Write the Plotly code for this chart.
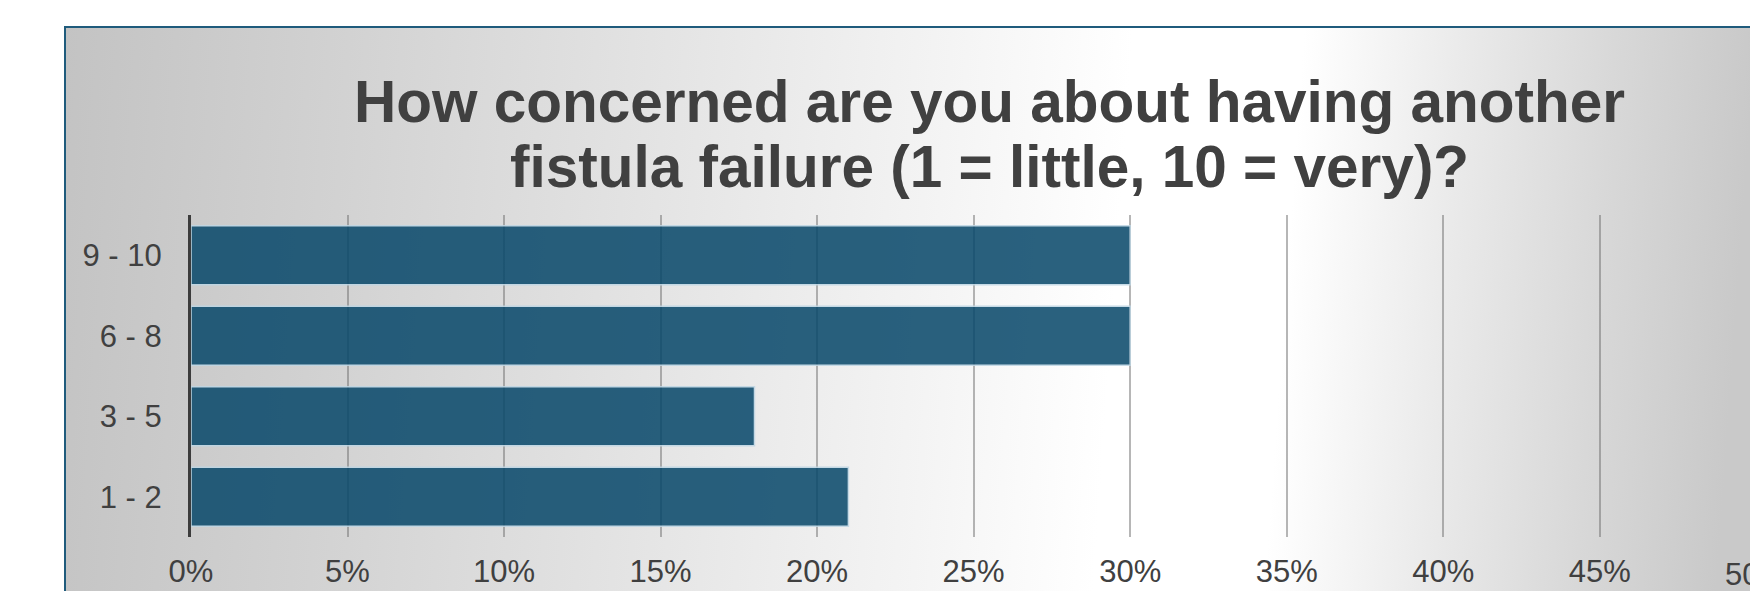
import base64
import plotly.graph_objects as go

# Survey responses: share of patients per concern band (top to bottom)
categories = ["9 - 10", "6 - 8", "3 - 5", "1 - 2"]
shares = [0.30, 0.30, 0.18, 0.21]

tick_values = [0.00, 0.05, 0.10, 0.15, 0.20, 0.25, 0.30, 0.35, 0.40, 0.45]
tick_labels = ["0%", "5%", "10%", "15%", "20%", "25%", "30%", "35%", "40%", "45%"]
edge_tick_value = 0.50
edge_tick_label = "50%"

title_lines = [
    "How concerned are you about having another",
    "fistula failure (1 = little, 10 = very)?",
]

# Canvas and plot-area geometry (px)
W, H = 1750, 591
M_L, M_R, M_T, M_B = 191, 0, 215, 54
PLOT_W = W - M_L - M_R
PLOT_H = H - M_T - M_B
X_MAX = 0.498  # the axis runs just past the right edge of the canvas

FONT = "Liberation Sans, Arial, sans-serif"
INK = "#404040"
LABEL_SIZE = 31


def px_to_paper_x(px):
    return (px - M_L) / PLOT_W


def px_to_paper_y(py):
    return (H - M_B - py) / PLOT_H


# Backdrop: framed panel with a soft grey-white-grey gradient
stops = [
    (64, "#c3c3c3"), (350, "#d2d2d2"), (650, "#e3e3e3"), (950, "#f4f4f4"),
    (1130, "#ffffff"), (1300, "#ffffff"), (1460, "#eaeaea"),
    (1610, "#d8d8d8"), (1750, "#c9c9c9"),
]
stop_xml = "".join(
    f'<stop offset="{(x - 64) / (1750 - 64):.4f}" stop-color="{c}"/>' for x, c in stops
)
svg = (
    f'<svg xmlns="http://www.w3.org/2000/svg" width="{W}" height="{H}" '
    f'viewBox="0 0 {W} {H}" preserveAspectRatio="none">'
    f'<defs><linearGradient id="g" gradientUnits="userSpaceOnUse" '
    f'x1="64" y1="0" x2="1750" y2="120">{stop_xml}</linearGradient></defs>'
    f'<rect x="0" y="0" width="{W}" height="{H}" fill="#ffffff"/>'
    f'<rect x="64" y="26" width="{W}" height="{H}" fill="url(#g)"/>'
    f'<rect x="64" y="26" width="2" height="{H}" fill="#1f5b7c"/>'
    f'<rect x="64" y="26" width="{W}" height="2" fill="#1f5b7c"/>'
    f'</svg>'
)
bg_src = "data:image/svg+xml;base64," + base64.b64encode(svg.encode()).decode()

fig = go.Figure()
fig.add_trace(
    go.Bar(
        x=shares,
        y=categories,
        orientation="h",
        marker=dict(
            color="rgb(8,72,106)",
            opacity=0.86,
            line=dict(color="rgba(190,214,228,1)", width=1.5),
        ),
        hoverinfo="skip",
    )
)

fig.add_layout_image(
    dict(
        source=bg_src,
        xref="paper", yref="paper",
        x=px_to_paper_x(0), y=px_to_paper_y(0),
        sizex=W / PLOT_W, sizey=H / PLOT_H,
        xanchor="left", yanchor="top",
        sizing="stretch", layer="below",
    )
)

annotations = []
title_centers_px = [101, 167]
for line, cy in zip(title_lines, title_centers_px):
    annotations.append(
        dict(
            text=f"<b>{line}</b>",
            xref="paper", yref="paper",
            x=px_to_paper_x(989), y=px_to_paper_y(cy),
            xanchor="center", yanchor="middle",
            showarrow=False,
            font=dict(family=FONT, size=58.5, color=INK),
        )
    )
annotations.append(
    dict(
        text=edge_tick_label,
        xref="paper", yref="paper",
        x=edge_tick_value / X_MAX, y=px_to_paper_y(574),
        xanchor="center", yanchor="middle",
        showarrow=False,
        font=dict(family=FONT, size=LABEL_SIZE, color=INK),
    )
)

fig.update_layout(
    width=W, height=H,
    margin=dict(l=M_L, r=M_R, t=M_T, b=M_B, pad=0),
    paper_bgcolor="white",
    plot_bgcolor="rgba(0,0,0,0)",
    showlegend=False,
    bargap=0.27,
    annotations=annotations,
    xaxis=dict(
        range=[0, X_MAX],
        tickmode="array",
        tickvals=tick_values,
        ticktext=tick_labels,
        showgrid=True,
        gridcolor="rgba(110,110,110,0.5)",
        gridwidth=1.5,
        zeroline=False,
        showline=False,
        ticks="",
        ticklabelstandoff=13,
        tickfont=dict(family=FONT, size=LABEL_SIZE, color=INK),
        automargin=False,
        fixedrange=True,
    ),
    yaxis=dict(
        categoryorder="array",
        categoryarray=categories,
        autorange="reversed",
        showgrid=False,
        zeroline=False,
        showline=True,
        linecolor="#3c3c3c",
        linewidth=3,
        ticks="",
        ticklabelstandoff=20,
        tickfont=dict(family=FONT, size=LABEL_SIZE, color=INK),
        automargin=False,
        fixedrange=True,
    ),
)

fig.write_html("out.html", config={"displayModeBar": False})
